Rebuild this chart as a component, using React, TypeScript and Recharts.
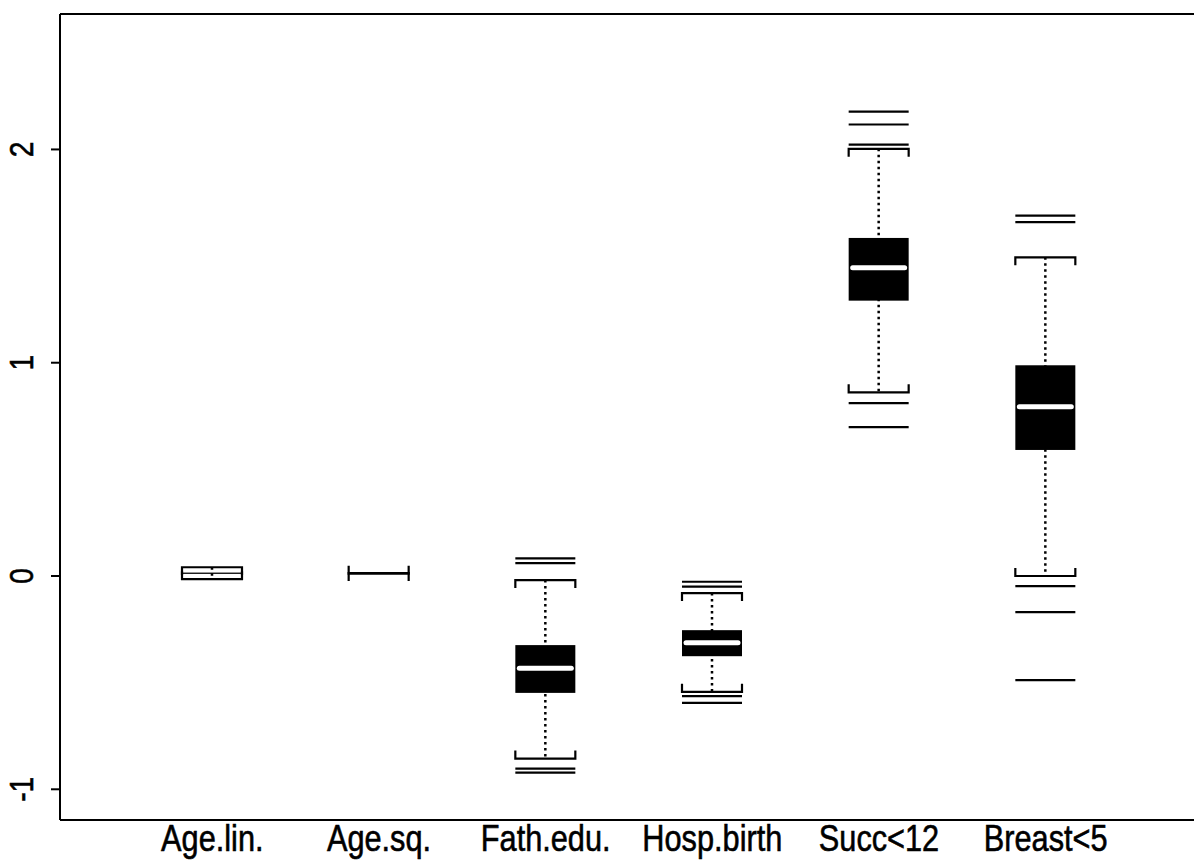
import React from "react";
import { BarChart, Bar, XAxis, YAxis, CartesianGrid } from "recharts";

// box summaries
const categories = ["Age.lin.", "Age.sq.", "Fath.edu.", "Hosp.birth", "Succ<12", "Breast<5"];
const lowerWhisker = [-0.015, 0.011, -0.856, -0.543, 0.861, 0.0];
const q1 = [0.01, 0.0125, -0.548, -0.376, 1.291, 0.591];
const median = [0.013, 0.0125, -0.433, -0.313, 1.445, 0.793];
const q3 = [0.016, 0.0125, -0.324, -0.254, 1.585, 0.988];
const upperWhisker = [0.041, 0.014, -0.019, -0.08, 2.003, 1.494];
const outliers = [
  [],
  [],
  [0.083, 0.06, -0.903, -0.922],
  [-0.027, -0.05, -0.563, -0.595],
  [2.177, 2.117, 2.023, 0.811, 0.698],
  [1.69, 1.659, -0.047, -0.169, -0.488],
];
const yTicks = [-1, 0, 1, 2];

const data = categories.map((name, i) => ({
  name,
  range: [lowerWhisker[i], upperWhisker[i]],
  lo: lowerWhisker[i],
  hi: upperWhisker[i],
  q1: q1[i],
  med: median[i],
  q3: q3[i],
  out: outliers[i],
}));

const FONT = "'Liberation Sans', Arial, sans-serif";
const NARROW = 0.83; // the original labels are set in a condensed face

function BoxShape(props: any) {
  const { x, y, width, height, payload } = props;
  const { lo, hi } = payload;
  // the bar spans [lo, hi]; map other values on the same linear scale
  const span = hi - lo;
  const toPx = (v: number) => (span === 0 ? y : y + ((hi - v) / span) * height);
  const cx = x + width / 2;
  const yHi = toPx(hi);
  const yLo = toPx(lo);
  const yQ1 = toPx(payload.q1);
  const yQ3 = toPx(payload.q3);
  const yMed = toPx(payload.med);
  const boxH = yQ1 - yQ3;
  const t = 8;
  return (
    <g>
      <line x1={cx} x2={cx} y1={yHi} y2={yLo} stroke="#000" strokeWidth={2.5} strokeDasharray="2.5 3.5" />
      <path d={`M${x},${yHi + t}V${yHi}H${x + width}V${yHi + t}`} fill="none" stroke="#000" strokeWidth={2.2} />
      <path d={`M${x},${yLo - t}V${yLo}H${x + width}V${yLo - t}`} fill="none" stroke="#000" strokeWidth={2.2} />
      {boxH >= 1 && <rect x={x} y={yQ3} width={width} height={boxH} fill="#000" />}
      {boxH >= 8 && (
        <line x1={x + 4} x2={x + width - 4} y1={yMed} y2={yMed} stroke="#fff" strokeWidth={5} strokeLinecap="round" />
      )}
      {payload.out.map((v: number, k: number) => (
        <line key={k} x1={x} x2={x + width} y1={toPx(v)} y2={toPx(v)} stroke="#000" strokeWidth={2.2} />
      ))}
    </g>
  );
}

function XTick(props: any) {
  const { x, y, payload } = props;
  return (
    <text
      transform={`translate(${x}, ${y + 31}) scale(${NARROW}, 1)`}
      textAnchor="middle"
      fontFamily={FONT}
      fontSize={37}
      fill="#000"
      stroke="#000"
      strokeWidth={0.6}
    >
      {payload.value}
    </text>
  );
}

function YTick(props: any) {
  const { y, payload } = props;
  return (
    <text
      transform={`translate(22, ${y}) rotate(-90) scale(${NARROW}, 1)`}
      textAnchor="middle"
      dominantBaseline="central"
      fontFamily={FONT}
      fontSize={34}
      fill="#000"
      stroke="#000"
      strokeWidth={0.6}
    >
      {payload.value}
    </text>
  );
}

export default function App() {
  const axisLine = { stroke: "#000", strokeWidth: 2 };
  return (
    <div style={{ position: "absolute", left: 0, top: 0, background: "#fff" }}>
      <BarChart width={1195} height={861} data={data} margin={{ top: 14, right: 1, left: 0, bottom: 0 }}>
        {/* top border of the frame; the right border is lost in the scan */}
        <CartesianGrid
          stroke="#000"
          strokeWidth={2}
          vertical={false}
          horizontalCoordinatesGenerator={({ offset }: any) => [offset.top]}
        />
        <XAxis
          dataKey="name"
          interval={0}
          padding={{ left: 69, right: 65 }}
          height={41}
          tickLine={false}
          tickSize={0}
          tickMargin={0}
          axisLine={axisLine}
          tick={<XTick />}
        />
        <YAxis
          type="number"
          domain={[-1.144, 2.635]}
          ticks={yTicks}
          allowDataOverflow
          width={60}
          tickSize={9}
          tickLine={{ stroke: "#000", strokeWidth: 2 }}
          axisLine={axisLine}
          tick={<YTick />}
        />
        <Bar dataKey="range" barSize={60} shape={<BoxShape />} isAnimationActive={false} />
      </BarChart>
    </div>
  );
}
